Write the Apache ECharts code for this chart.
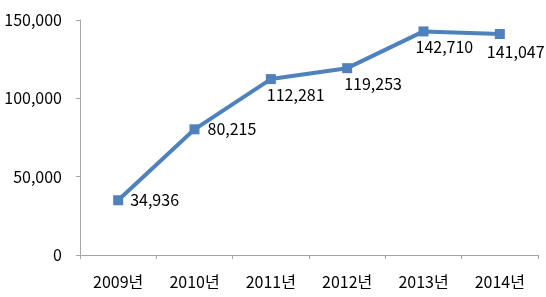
<!DOCTYPE html>
<html><head><meta charset="utf-8">
<script src="https://cdn.jsdelivr.net/npm/echarts@6/dist/echarts.min.js"></script>
<style>html,body{margin:0;padding:0;background:#fff}#c{width:546px;height:297px}</style>
</head><body><div id="c"></div>
<script>
var categories = ['2009년','2010년','2011년','2012년','2013년','2014년'];
var values = [34936, 80215, 112281, 119253, 142710, 141047];
var yTicks = [0, 50000, 100000, 150000];

var font = '"Noto Sans CJK KR", "Noto Sans", sans-serif';
var offs = [[2,0],[3,0],[-14,16],[-13,16],[-18,16],[-23,18]];
var data = values.map(function(v,i){
  return {value: v, label: {offset: offs[i]}};
});
var chart = echarts.init(document.getElementById('c'));
chart.setOption({
  animation: false,
  grid: {left: 80, right: 8, top: 20, bottom: 42},
  xAxis: {
    type: 'category', data: categories, boundaryGap: true,
    axisLine: {lineStyle: {color: '#a6a6a6', width: 1}},
    axisTick: {show: true, length: 4, lineStyle: {color: '#a6a6a6'}},
    axisLabel: {color: '#000', fontSize: 16, fontFamily: font, margin: 19}
  },
  yAxis: {
    type: 'value', min: yTicks[0], max: yTicks[yTicks.length-1], interval: 50000,
    axisLine: {show: true, lineStyle: {color: '#a6a6a6', width: 1}},
    axisTick: {show: true, length: 4, lineStyle: {color: '#a6a6a6'}},
    splitLine: {show: false},
    axisLabel: {color: '#000', fontSize: 16, fontFamily: font, margin: 18,
      formatter: function(v){ return v.toLocaleString('en-US'); }}
  },
  series: [{
    type: 'line', data: data,
    symbol: 'rect', symbolSize: 10,
    lineStyle: {color: '#4F81BD', width: 4},
    itemStyle: {color: '#4F81BD'},
    label: {show: true, position: 'right', distance: 5, color: '#000', fontSize: 16, fontFamily: font,
      formatter: function(p){ return p.value.toLocaleString('en-US'); }}
  }]
});
</script></body></html>
